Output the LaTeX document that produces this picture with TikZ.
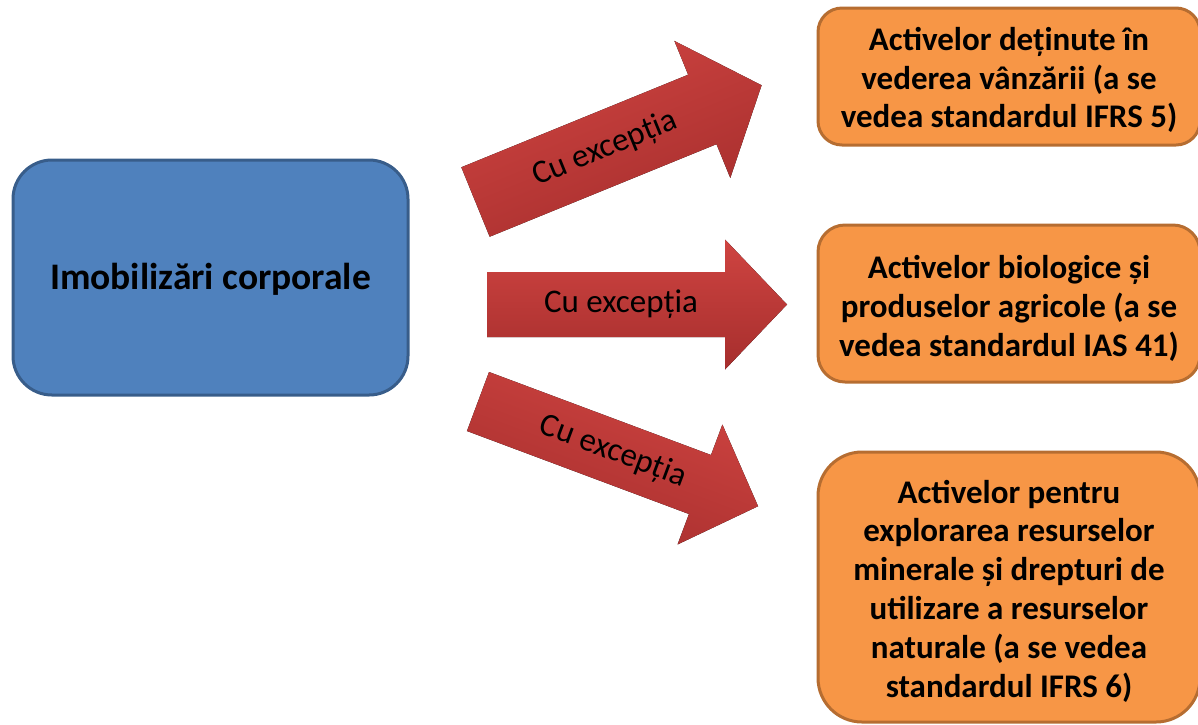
\documentclass[tikz,border=0pt]{standalone}
\usepackage{fontspec}
\setmainfont{Carlito}
\definecolor{bluefill}{HTML}{4F81BD}
\definecolor{blueline}{HTML}{385D8A}
\definecolor{orfill}{HTML}{F79646}
\definecolor{orline}{HTML}{B66D31}
\definecolor{redtop}{HTML}{CF4441}
\definecolor{redbot}{HTML}{A62E2D}
\tikzset{
  mainbox/.style={draw=blueline, fill=bluefill, line width=3pt, rounded corners=39pt,
    minimum width=395pt, minimum height=235pt},
  maintext/.style={font=\fontsize{37.5}{43}\selectfont\bfseries, align=center},
  orbox/.style={draw=orline, fill=orfill, line width=3pt, minimum width=382pt},
  ortext/.style={font=\fontsize{33}{38.8}\selectfont\bfseries, align=center, inner sep=0pt},
  redarrow/.style={top color=redtop, bottom color=redbot},
  arrlabel/.style={font=\fontsize{33}{38}\selectfont}
}
\begin{document}
\begin{tikzpicture}[x=1pt,y=-1pt]
\useasboundingbox (0,0) rectangle (1198,724);

\node[mainbox] (main) at (210.5,277.5) {};
\node[maintext] (mt) at ([yshift=-2pt]main.center) {Imobilizări corporale};

\node[orbox, rounded corners=24pt, minimum height=137pt] (o1) at (1009,76.5) {};
\node[ortext] (t1) at ([yshift=-3.5pt]o1.center)
  {Activelor deținute în\\vederea vânzării (a se\\vedea standardul IFRS 5)};
\node[orbox, rounded corners=27pt, minimum height=157pt] (o2) at (1009,303.5) {};
\node[ortext] (t2) at ([yshift=-5pt]o2.center)
  {Activelor biologice și\\produselor agricole (a se\\vedea standardul IAS 41)};
\node[orbox, rounded corners=44pt, minimum height=270pt] (o3) at (1009,587) {};
\node[ortext] (t3) at ([yshift=-4pt]o3.center)
  {Activelor pentru\\explorarea resurselor\\minerale și drepturi de\\utilizare a resurselor\\naturale (a se vedea\\standardul IFRS 6)};

% arrow 1 (up)
\begin{scope}[shift={(475.5,202)}, rotate=22.2]
  \fill[redarrow, shading angle=22.2] (0,-37.5) -- (245,-37.5) -- (245,-74) -- (309,0) -- (245,74) -- (245,37.5) -- (0,37.5) -- cycle;
  \node[arrlabel, rotate=22.2] (l1) at (140,0) {Cu excepția};
\end{scope}
% arrow 2 (straight)
\begin{scope}[shift={(487,304.5)}]
  \fill[redarrow] (0,-32.5) -- (238,-32.5) -- (238,-65) -- (300,0) -- (238,65) -- (238,32.5) -- (0,32.5) -- cycle;
  \node[arrlabel] (l2) at (134,0) {Cu excepția};
\end{scope}
% arrow 3 (down)
\begin{scope}[shift={(478,401.5)}, rotate=-20.5]
  \fill[redarrow, shading angle=-20.5] (0,-31.5) -- (237,-31.5) -- (237,-64) -- (299,0) -- (237,64) -- (237,31.5) -- (0,31.5) -- cycle;
  \node[arrlabel, rotate=-20.5] (l3) at (144,0) {Cu excepția};
\end{scope}
\end{tikzpicture}
\end{document}
